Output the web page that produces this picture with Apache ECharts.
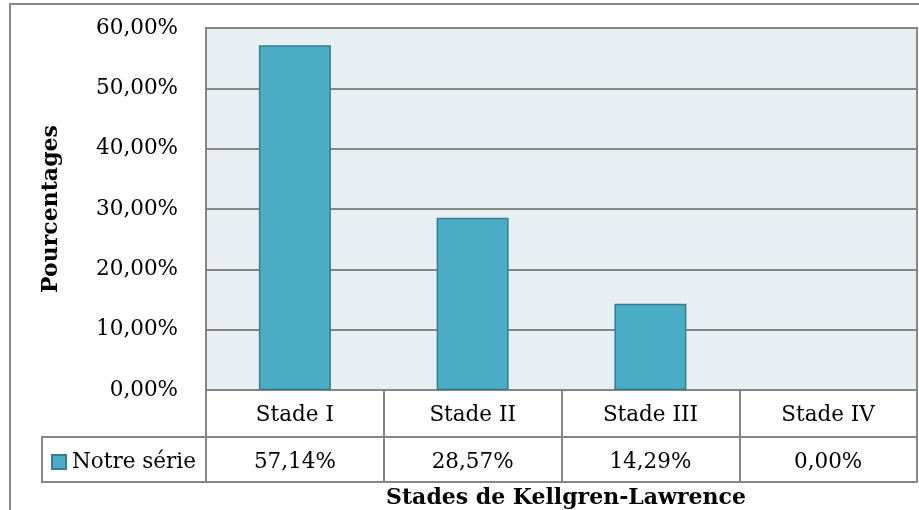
<!DOCTYPE html>
<html><head><meta charset="utf-8">
<script src="https://cdn.jsdelivr.net/npm/echarts@6/dist/echarts.min.js"></script>
<style>html,body{margin:0;padding:0;background:#fff}#c{width:919px;height:510px}</style>
</head><body><div id="c"></div>
<script>
const categories = ['Stade I', 'Stade II', 'Stade III', 'Stade IV'];
const values = [57.14, 28.57, 14.29, 0.00];
const seriesName = 'Notre série';
const yTicks = [0, 10, 20, 30, 40, 50, 60];
const yAxisTitle = 'Pourcentages';
const xAxisTitle = 'Stades de Kellgren-Lawrence';

const fmt = v => v.toFixed(2).replace('.', ',') + '%';
const valueLabels = values.map(fmt);
const FONT = 'DejaVu Serif';
const LINE = '#868686';
const FS = 21.5;

const barData = values.map(v => ({value: v, itemStyle: v === 0 ? {borderWidth: 0} : {}}));

const chart = echarts.init(document.getElementById('c'), null, {renderer: 'canvas'});
chart.setOption({
  animation: false,
  backgroundColor: '#fff',
  textStyle: {fontFamily: FONT},
  grid: {left: 206, right: 2, top: 28, bottom: 120, show: true,
         backgroundColor: '#E8EFF3', borderColor: LINE, borderWidth: 2},
  legend: {data: [seriesName], left: 46, top: 446, itemWidth: 14, itemHeight: 14, itemGap: 4,
           icon: 'rect', textStyle: {fontFamily: FONT, fontSize: FS, color: '#000', padding: [0,0,0,1]}},
  title: {text: xAxisTitle, left: 561, top: 482, textAlign: 'center',
          textStyle: {fontFamily: FONT, fontSize: 22, fontWeight: 'bold', color: '#000'}},
  xAxis: [
    {type: 'category', data: categories, position: 'bottom',
     axisLine: {show: true, lineStyle: {color: LINE, width: 2}},
     axisTick: {show: true, interval: 0, length: 92, lineStyle: {color: LINE, width: 2}},
     axisLabel: {interval: 0, margin: 14, fontFamily: FONT, fontSize: FS, color: '#000'}},
    {type: 'category', data: valueLabels, position: 'bottom', offset: 47,
     axisLine: {show: true, lineStyle: {color: LINE, width: 2}},
     axisTick: {show: false},
     axisLabel: {interval: 0, margin: 14, fontFamily: FONT, fontSize: FS, color: '#000'}},
    {type: 'category', data: categories, position: 'bottom', offset: 92,
     axisLine: {show: true, lineStyle: {color: LINE, width: 2}},
     axisTick: {show: false}, axisLabel: {show: false}}
  ],
  yAxis: {type: 'value', min: yTicks[0], max: yTicks[yTicks.length-1], interval: 10,
    name: yAxisTitle, nameLocation: 'middle', nameGap: 144, nameRotate: 90,
    nameTextStyle: {fontFamily: FONT, fontSize: 22, fontWeight: 'bold', color: '#000'},
    axisLine: {show: true, lineStyle: {color: LINE, width: 2}},
    axisTick: {show: false},
    splitLine: {show: true, lineStyle: {color: LINE, width: 2}},
    axisLabel: {margin: 28, fontFamily: FONT, fontSize: FS, color: '#000', padding: [4,0,0,0], formatter: v => fmt(v)}},
  series: [{name: seriesName, type: 'bar', data: barData, xAxisIndex: 0, barWidth: '40.5%',
    itemStyle: {color: '#4BACC6', borderColor: '#357D91', borderWidth: 1.5}}],
  graphic: [
    {type: 'rect', shape: {x: 10, y: 4, width: 930, height: 530}, style: {fill: null, stroke: LINE, lineWidth: 2}, silent: true},
    {type: 'line', shape: {x1: 42, y1: 437, x2: 206, y2: 437}, style: {stroke: LINE, lineWidth: 2}},
    {type: 'line', shape: {x1: 42, y1: 482, x2: 206, y2: 482}, style: {stroke: LINE, lineWidth: 2}},
    {type: 'line', shape: {x1: 42, y1: 436, x2: 42, y2: 483}, style: {stroke: LINE, lineWidth: 2}}
  ]
});
</script></body></html>
